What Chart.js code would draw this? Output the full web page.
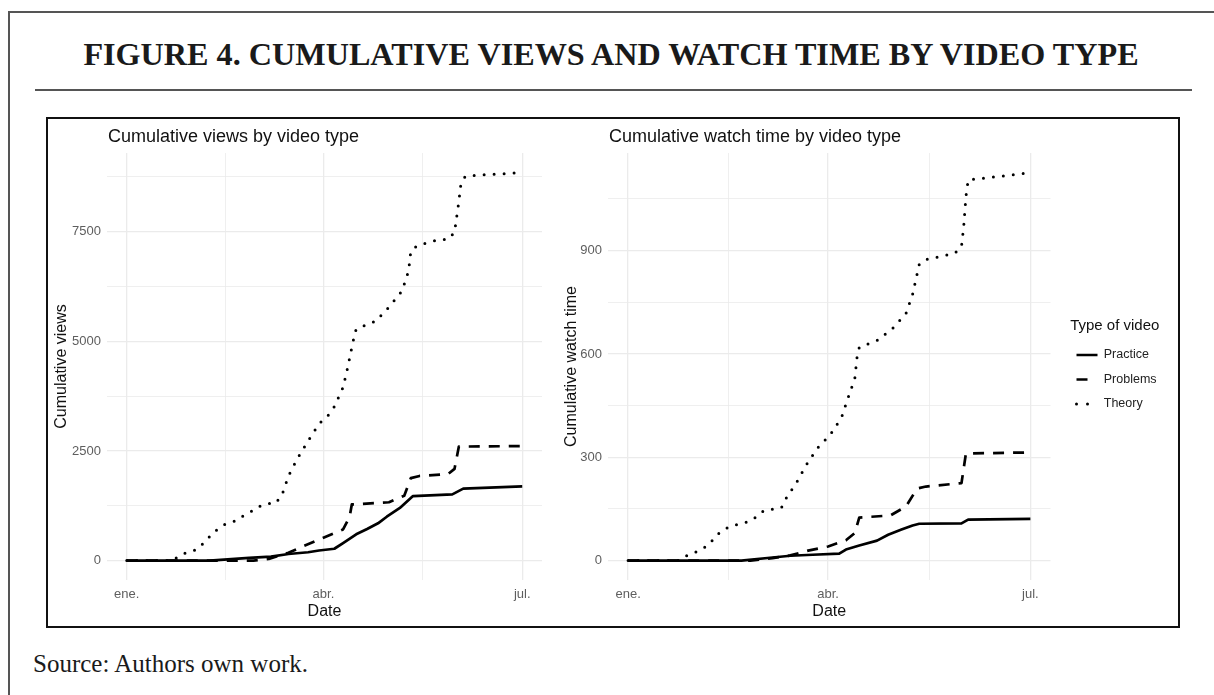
<!DOCTYPE html>
<html>
<head>
<meta charset="utf-8">
<script src="https://cdn.jsdelivr.net/npm/chart.js@4.4.1/dist/chart.umd.min.js"></script>
<style>
  html, body { margin:0; padding:0; background:#fff; width:1214px; height:695px; overflow:hidden; position:relative; }
  .frame { position:absolute; left:8px; top:11px; width:1220px; height:700px; border-left:2px solid #555; border-top:2px solid #555; }
  .fig-title { position:absolute; left:0; top:38px; width:1222px; text-align:center; font:bold 32.2px "Liberation Serif","Times New Roman",serif; line-height:1; color:#1a1a1a; white-space:nowrap; }
  .rule { position:absolute; left:35px; top:89px; width:1157px; height:2px; background:#555; }
  .plotbox { position:absolute; left:46px; top:117px; width:1134px; height:511px; box-sizing:border-box; border:2.5px solid #111; }
  .source { position:absolute; left:33px; top:651px; font:25px "Liberation Serif","Times New Roman",serif; line-height:1; color:#1a1a1a; white-space:nowrap; }
  .cv { position:absolute; }
</style>
</head>
<body>
<div class="frame"></div>
<div class="fig-title">FIGURE 4. CUMULATIVE VIEWS AND WATCH TIME BY VIDEO TYPE</div>
<div class="rule"></div>
<div class="plotbox"></div>
<canvas id="views" class="cv" width="510" height="505" style="left:49px;top:121px;width:510px;height:505px"></canvas>
<canvas id="watch" class="cv" width="616" height="505" style="left:562px;top:121px;width:616px;height:505px"></canvas>
<div class="source">Source: Authors own work.</div>

<script>
// ---------- DATA (dates as MM-DD of the year, values cumulative) ----------
const seriesLabels = ['Practice', 'Problems', 'Theory'];

// Cumulative views
const viewsPracticeDates = ['01-01','02-08','02-26','03-08','03-16','03-25','03-30','04-06','04-10','04-16','04-21','04-26','04-30','05-06','05-12','05-30','06-04','07-01'];
const viewsPracticeValues = [0,0,60,90,150,190,230,270,400,600,720,850,1000,1200,1470,1510,1640,1690];

const viewsProblemsDates = ['01-01','02-28','03-07','03-16','03-23','04-01','04-10','04-13','04-14','05-01','05-08','05-11','05-15','05-28','05-31','06-02','07-01'];
const viewsProblemsValues = [0,0,40,180,330,520,710,1000,1280,1330,1480,1880,1930,1970,2090,2600,2610];

const viewsTheoryDates = ['01-01','01-21','01-24','01-28','02-02','02-05','02-08','02-11','02-15','02-19','02-23','02-27','03-02','03-06','03-10','03-13','03-16','03-20','03-25','03-30','04-03','04-06','04-10','04-12','04-14','04-15','04-16','04-25','05-01','05-07','05-10','05-11','05-14','05-24','05-28','05-31','06-02','06-03','06-05','06-14','06-24','07-01'];
const viewsTheoryValues = [0,0,70,180,250,390,550,690,830,890,1010,1120,1220,1300,1300,1490,1930,2320,2730,3120,3300,3510,3950,4380,4860,5090,5280,5460,5780,6150,6610,7060,7180,7320,7320,7480,8190,8620,8760,8800,8820,8850];

// Cumulative watch time
const watchPracticeDates = ['01-01','02-21','03-07','03-15','03-25','04-06','04-09','04-15','04-23','04-28','05-04','05-09','05-12','05-31','06-03','07-01'];
const watchPracticeValues = [0,0,9,14,17,20,32,44,58,75,90,102,107,108,119,121];

const watchProblemsDates = ['01-01','02-25','03-07','03-15','03-23','04-01','04-09','04-13','04-15','04-29','05-06','05-11','05-15','05-31','06-02','07-01'];
const watchProblemsValues = [0,0,7,15,29,41,59,80,125,131,157,209,215,225,311,314];

const watchTheoryDates = ['01-01','01-24','01-28','02-01','02-06','02-09','02-12','02-16','02-24','02-28','03-03','03-11','03-13','03-18','03-22','03-27','04-02','04-07','04-10','04-13','04-14','04-15','04-23','04-30','05-06','05-09','05-11','05-12','05-15','05-28','05-31','06-01','06-02','06-03','06-12','06-21','07-01'];
const watchTheoryValues = [0,0,17,26,44,67,87,99,113,128,145,154,180,229,276,325,366,415,473,529,590,619,639,674,717,773,831,860,874,892,912,970,1057,1105,1112,1118,1127];

// Axis ticks
const monthTickDates = ['01-01','04-01','07-01'];
const monthTickLabels = ['ene.','abr.','jul.'];
const viewsTicks = [0, 2500, 5000, 7500];
const watchTicks = [0, 300, 600, 900];

// ---------- HELPERS ----------
const FONT = '"Liberation Sans", Arial, Helvetica, sans-serif';
const YEAR = 2021;
function dayOf(md) { const [m, d] = md.split('-').map(Number); return (Date.UTC(YEAR, m - 1, d) - Date.UTC(YEAR, 0, 1)) / 86400000; }
function pts(dates, vals) { return dates.map((d, i) => ({ x: dayOf(d), y: vals[i] })); }
function expand(lo, hi) { const r = hi - lo; return [lo - 0.05 * r, hi + 0.05 * r]; }

const styleOf = {
  Practice: { borderDash: [], legendDash: [], borderCapStyle: 'butt', borderWidth: 2.7 },
  Problems: { borderDash: [11, 9], legendDash: [11, 12], borderCapStyle: 'butt', borderWidth: 2.7 },
  Theory:   { borderDash: [0, 10], legendDash: [0, 11], borderCapStyle: 'round', borderWidth: 3 }
};

const xMajor = monthTickDates.map(dayOf);
const xMinor = xMajor.slice(1).map((v, i) => (v + xMajor[i]) / 2);
const xGrid = xMajor.concat(xMinor).sort((a, b) => a - b);

function yGridFor(major, lo, hi) {
  const half = (major[1] - major[0]) / 2;
  const out = [];
  for (let k = Math.ceil(lo / half); k <= Math.floor(hi / half); k++) out.push(k * half);
  return out;
}

const panelTitle = {
  id: 'panelTitle',
  afterDraw(chart, args, opts) {
    const { ctx, chartArea } = chart;
    ctx.save();
    ctx.font = '18px ' + FONT;
    ctx.fillStyle = '#111';
    ctx.textBaseline = 'middle';
    ctx.textAlign = 'left';
    ctx.fillText(opts.text, chartArea.left + 1, chartArea.top - 16);
    ctx.restore();
  }
};

function makeChart(id, cfg) {
  const all = [].concat(...cfg.series.map(s => s.values));
  const yr = expand(Math.min(...all), Math.max(...all));
  const allX = [].concat(...cfg.series.map(s => s.dates.map(dayOf)));
  const xr = expand(Math.min(...allX), Math.max(...allX));
  const yGrid = yGridFor(cfg.majorY, yr[0], yr[1]);

  const datasets = cfg.series.map((s, i) => {
    const st = styleOf[seriesLabels[i]];
    return {
      label: seriesLabels[i],
      data: pts(s.dates, s.values),
      borderColor: '#000',
      backgroundColor: '#000',
      pointRadius: 0,
      fill: false,
      tension: 0,
      borderJoinStyle: 'round',
      borderDash: st.borderDash,
      borderCapStyle: st.borderCapStyle,
      borderWidth: st.borderWidth
    };
  });

  const scales = {
    x: {
      type: 'linear', min: xr[0], max: xr[1],
      afterBuildTicks: s => { s.ticks = xGrid.map(v => ({ value: v })); },
      afterFit: s => { s.height = 46; },
      grid: { color: '#ebebeb', lineWidth: c => (c.tick && xMajor.includes(c.tick.value)) ? 1.3 : 0.8, drawTicks: false },
      border: { display: false },
      ticks: {
        autoSkip: false, maxRotation: 0, padding: 7, color: '#5e5e5e', font: { family: FONT, size: 13 },
        callback: v => { const i = xMajor.indexOf(v); return i >= 0 ? monthTickLabels[i] : ''; }
      },
      title: { display: true, text: 'Date', color: '#111', font: { family: FONT, size: 16 }, padding: { top: 0, bottom: 5 } }
    },
    y: {
      type: 'linear', position: 'left', min: yr[0], max: yr[1],
      afterBuildTicks: s => { s.ticks = yGrid.map(v => ({ value: v })); },
      afterFit: s => { s.width = cfg.yWidth; },
      grid: { color: '#ebebeb', lineWidth: c => (c.tick && cfg.majorY.includes(c.tick.value)) ? 1.3 : 0.8, drawTicks: false },
      border: { display: false },
      ticks: {
        padding: 6, color: '#5e5e5e', font: { family: FONT, size: 13 },
        callback: v => cfg.majorY.includes(v) ? String(v) : ''
      },
      title: { display: true, text: cfg.yTitle, color: '#111', font: { family: FONT, size: 16 }, padding: { top: cfg.yTitlePad, bottom: 0 } }
    }
  };
  if (cfg.legend) {
    scales.gap = {
      type: 'linear', position: 'right', display: true,
      grid: { display: false }, border: { display: false }, ticks: { display: false },
      afterFit: s => { s.width = 14; }
    };
  }

  return new Chart(document.getElementById(id), {
    type: 'line',
    data: { datasets },
    plugins: [panelTitle],
    options: {
      responsive: false,
      animation: false,
      events: [],
      layout: { padding: { left: 0, top: 32, right: cfg.padRight, bottom: 0 } },
      scales,
      plugins: {
        panelTitle: { text: cfg.title },
        tooltip: { enabled: false },
        title: { display: false },
        legend: cfg.legend ? {
          display: true, position: 'right', fullSize: false, align: 'center',
          title: { display: true, text: 'Type of video', color: '#111', position: 'center', font: { family: FONT, size: 15 }, padding: { top: 8, bottom: 0 } },
          labels: {
            usePointStyle: true, pointStyle: 'line', pointStyleWidth: 21, padding: 12,
            color: '#222', font: { family: FONT, size: 12.5 },
            generateLabels: chart => chart.data.datasets.map((ds, i) => ({
              text: ds.label, fillStyle: 'rgba(0,0,0,0)', strokeStyle: '#000', fontColor: '#222',
              lineWidth: ds.borderWidth, lineDash: styleOf[ds.label].legendDash, lineCap: ds.borderCapStyle,
              pointStyle: 'line', hidden: false, datasetIndex: i
            }))
          }
        } : { display: false }
      }
    }
  });
}

makeChart('views', {
  title: 'Cumulative views by video type',
  yTitle: 'Cumulative views',
  majorY: viewsTicks,
  yWidth: 58, yTitlePad: 3.4, padRight: 17, legend: false,
  series: [
    { dates: viewsPracticeDates, values: viewsPracticeValues },
    { dates: viewsProblemsDates, values: viewsProblemsValues },
    { dates: viewsTheoryDates, values: viewsTheoryValues }
  ]
});

makeChart('watch', {
  title: 'Cumulative watch time by video type',
  yTitle: 'Cumulative watch time',
  majorY: watchTicks,
  yWidth: 46, yTitlePad: 0.4, padRight: 13, legend: true,
  series: [
    { dates: watchPracticeDates, values: watchPracticeValues },
    { dates: watchProblemsDates, values: watchProblemsValues },
    { dates: watchTheoryDates, values: watchTheoryValues }
  ]
});
</script>
</body>
</html>
